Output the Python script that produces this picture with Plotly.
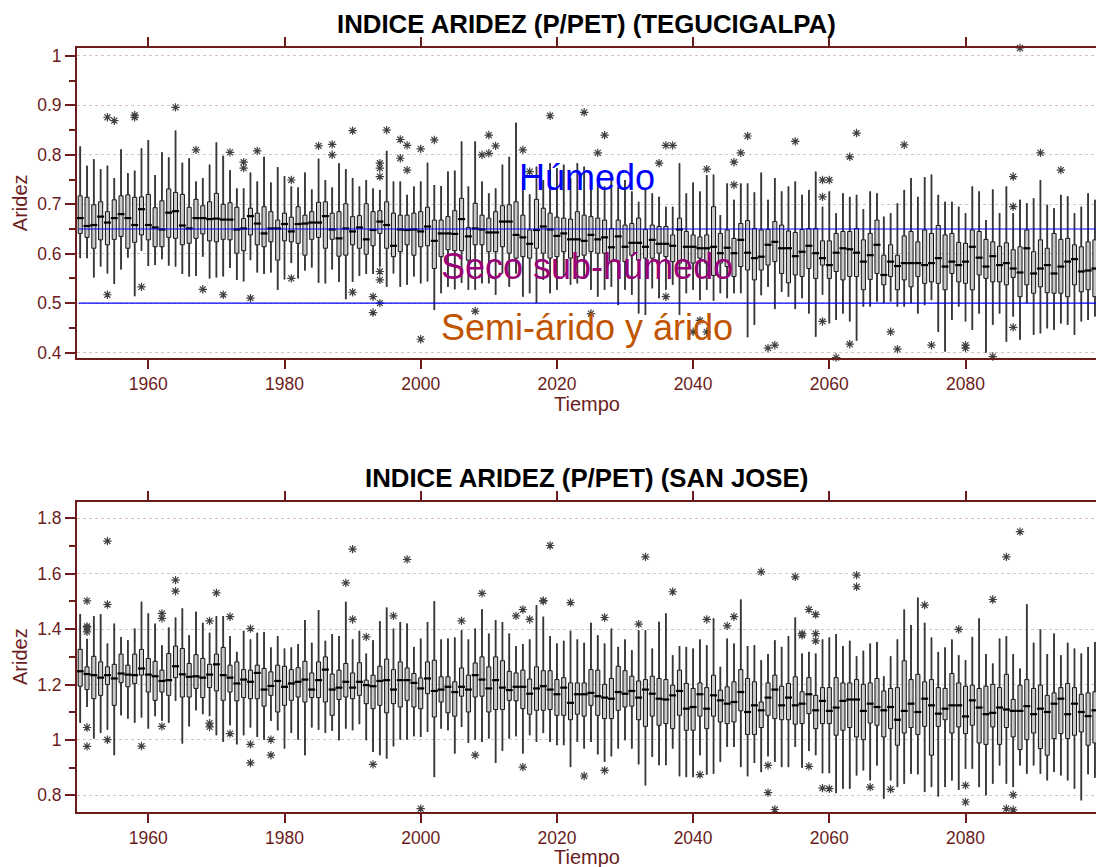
import plotly.graph_objects as go

# ---------------- data ----------------
years = list(range(1950, 2100))

# TEGUCIGALPA (top panel)
teg_q1 = [.641,.633,.611,.628,.618,.629,.635,.611,.623,.638,.628,.614,.614,.633,.631,.618,.621,.631,.640,.626,
          .624,.629,.628,.601,.606,.638,.618,.614,.624,.587,.626,.624,.621,.597,.629,.633,.611,.629,.595,.597,
          .618,.611,.599,.616,.641,.611,.594,.604,.618,.597,.614,.616,.570,.594,.608,.606,.606,.587,.618,.618,
          .604,.604,.614,.601,.591,.594,.591,.611,.601,.591,.594,.604,.591,.594,.597,.604,.601,.601,.584,.584,
          .584,.597,.587,.591,.591,.601,.594,.584,.581,.584,.581,.591,.581,.556,.581,.574,.554,.574,.567,.547,
          .567,.577,.584,.560,.541,.557,.554,.570,.550,.577,.550,.564,.547,.554,.554,.527,.548,.560,.537,.554,
          .527,.547,.533,.554,.540,.543,.540,.527,.560,.543,.540,.527,.557,.550,.543,.543,.537,.552,.513,.537,
          .520,.533,.521,.520,.520,.513,.537,.523,.527,.513]
teg_med = [.672,.656,.658,.675,.663,.672,.680,.672,.658,.690,.658,.653,.649,.683,.686,.657,.651,.672,.672,.670,
           .671,.669,.669,.649,.651,.676,.661,.641,.651,.651,.660,.645,.660,.661,.663,.663,.676,.649,.631,.651,
           .645,.653,.629,.648,.665,.658,.616,.649,.648,.649,.645,.655,.626,.641,.641,.640,.670,.635,.651,.649,
           .643,.643,.665,.665,.638,.633,.620,.648,.655,.649,.636,.641,.629,.629,.626,.638,.629,.633,.613,.635,
           .614,.622,.622,.614,.628,.620,.620,.616,.649,.614,.614,.611,.611,.614,.601,.612,.601,.628,.602,.591,
           .594,.618,.624,.611,.611,.595,.604,.616,.601,.591,.577,.602,.611,.609,.602,.584,.597,.618,.557,.584,
           .575,.581,.581,.581,.577,.581,.591,.574,.584,.577,.584,.614,.592,.574,.595,.577,.581,.570,.562,.611,
           .560,.570,.577,.560,.574,.584,.589,.564,.566,.570]
teg_q3 = [.717,.714,.699,.705,.685,.709,.717,.719,.714,.715,.720,.693,.707,.731,.724,.720,.694,.710,.697,.705,
          .722,.700,.703,.694,.671,.692,.682,.695,.685,.668,.682,.674,.695,.678,.685,.704,.705,.682,.685,.701,
          .675,.677,.701,.685,.687,.705,.682,.678,.678,.682,.685,.694,.668,.668,.675,.687,.712,.653,.702,.678,
          .672,.685,.697,.699,.705,.678,.648,.710,.692,.682,.674,.672,.670,.685,.678,.675,.672,.668,.651,.668,
          .658,.661,.672,.649,.658,.655,.655,.638,.672,.645,.638,.634,.638,.695,.641,.648,.631,.661,.667,.651,
          .648,.649,.665,.658,.646,.643,.649,.651,.651,.626,.626,.641,.645,.645,.651,.628,.641,.668,.597,.618,
          .597,.636,.645,.624,.648,.641,.657,.638,.641,.623,.621,.648,.645,.629,.624,.615,.622,.608,.614,.648,
          .604,.628,.611,.641,.629,.631,.618,.614,.624,.628]
teg_lo = [.591,.591,.552,.574,.560,.539,.568,.592,.514,.606,.575,.577,.589,.576,.574,.559,.554,.555,.594,.550,
          .552,.554,.571,.547,.544,.587,.562,.559,.562,.527,.548,.581,.550,.566,.572,.541,.540,.568,.543,.508,
          .543,.555,.559,.559,.574,.533,.560,.533,.537,.554,.540,.544,.486,.520,.533,.528,.541,.527,.527,.540,
          .540,.517,.560,.533,.560,.513,.520,.500,.547,.520,.527,.554,.537,.540,.550,.527,.513,.527,.533,.496,
          .527,.517,.479,.476,.530,.510,.527,.537,.476,.520,.527,.506,.527,.505,.520,.510,.520,.520,.431,.456,
          .516,.533,.488,.523,.513,.488,.510,.479,.432,.517,.459,.466,.479,.463,.424,.493,.493,.503,.500,.503,
          .493,.493,.500,.479,.496,.506,.442,.402,.466,.493,.463,.446,.479,.400,.456,.479,.422,.473,.426,.500,
          .436,.439,.449,.446,.459,.456,.436,.463,.466,.473]
teg_hi = [.817,.778,.791,.771,.778,.753,.811,.763,.768,.813,.830,.759,.805,.795,.849,.784,.793,.746,.753,.780,
          .825,.798,.769,.732,.732,.764,.746,.796,.744,.775,.757,.736,.734,.764,.730,.792,.749,.734,.783,.771,
          .753,.736,.749,.732,.729,.808,.746,.746,.719,.736,.746,.784,.739,.737,.766,.768,.827,.736,.827,.746,
          .722,.732,.780,.796,.865,.756,.720,.776,.749,.783,.773,.780,.753,.783,.776,.763,.753,.736,.763,.736,
          .749,.726,.705,.732,.722,.715,.695,.695,.783,.722,.744,.726,.759,.760,.678,.742,.709,.742,.742,.724,
          .764,.709,.753,.726,.736,.746,.719,.729,.766,.695,.726,.682,.722,.715,.719,.690,.726,.722,.675,.682,
          .702,.729,.753,.715,.755,.760,.719,.705,.705,.695,.682,.736,.726,.668,.730,.682,.736,.682,.709,.702,
          .712,.749,.699,.692,.719,.716,.682,.695,.722,.709]
teg_out_year = [1954,1954,1955,1958,1958,1959,1964,1967,1968,1971,1972,1974,1974,1975,1976,1981,1981,1985,1987,1987,
                1990,1990,1993,1993,1994,1994,1994,1994,1994,1994,1995,1997,1997,1998,1998,2000,2000,2002,2008,2009,
                2010,2010,2011,2015,2016,2019,2024,2025,2026,2027,2035,2036,2036,2037,2040,2041,2042,2042,2046,2046,
                2047,2048,2051,2052,2055,2059,2059,2059,2060,2061,2063,2063,2064,2069,2070,2071,2075,2080,2080,2084,
                2087,2087,2087,2088,2091,2094]
teg_out_val = [.876,.517,.869,.880,.876,.533,.896,.810,.528,.517,.805,.785,.773,.510,.808,.749,.550,.818,.821,.800,
               .849,.522,.513,.481,.783,.773,.756,.564,.547,.500,.850,.831,.793,.819,.769,.812,.427,.830,.484,.800,
               .840,.803,.818,.810,.766,.879,.886,.479,.804,.840,.783,.819,.513,.819,.442,.465,.442,.771,.785,.739,
               .804,.838,.409,.415,.827,.749,.715,.463,.749,.390,.796,.417,.844,.442,.407,.820,.415,.415,.409,.392,
               .756,.695,.451,1.016,.804,.769]

# SAN JOSE (bottom panel)
sj_q1 = [1.194,1.182,1.149,1.161,1.200,1.125,1.207,1.192,1.204,1.234,1.173,1.143,1.173,1.161,1.225,1.155,1.155,1.186,1.153,1.189,
         1.177,1.143,1.173,1.141,1.153,1.149,1.149,1.122,1.161,1.101,1.125,1.143,1.155,1.137,1.153,1.153,1.137,1.089,1.146,1.155,
         1.149,1.161,1.131,1.113,1.125,1.098,1.131,1.119,1.143,1.119,1.113,1.167,1.083,1.137,1.098,1.086,1.158,1.101,1.155,1.158,
         1.101,1.110,1.110,1.143,1.141,1.113,1.093,1.107,1.107,1.110,1.089,1.089,1.073,1.093,1.086,1.125,1.089,1.077,1.077,1.107,
         1.119,1.122,1.073,1.049,1.086,1.053,1.059,1.041,1.089,1.035,1.035,1.086,1.041,1.086,1.065,1.059,1.065,1.105,1.020,1.020,
         1.045,1.089,1.077,1.073,1.073,1.057,1.059,1.095,1.041,1.059,1.059,1.017,1.035,1.045,1.011,1.001,1.061,1.053,1.011,1.041,
         0.981,1.025,1.045,1.020,1.049,0.945,1.049,1.073,1.025,1.047,1.023,1.053,0.989,0.984,1.047,0.984,1.045,1.011,0.965,1.001,
         1.025,0.969,0.945,1.005,1.023,1.005,1.017,1.029,0.981,0.989]
sj_med = [1.248,1.238,1.234,1.225,1.234,1.222,1.240,1.236,1.234,1.258,1.236,1.230,1.213,1.216,1.266,1.237,1.228,1.230,1.225,1.236,
          1.273,1.234,1.225,1.204,1.218,1.210,1.242,1.182,1.195,1.213,1.192,1.204,1.210,1.218,1.182,1.216,1.254,1.182,1.189,1.210,
          1.189,1.210,1.198,1.194,1.213,1.216,1.182,1.216,1.216,1.206,1.186,1.222,1.177,1.182,1.192,1.173,1.192,1.182,1.234,1.218,
          1.186,1.216,1.189,1.180,1.192,1.192,1.167,1.186,1.194,1.182,1.165,1.189,1.134,1.165,1.165,1.170,1.158,1.153,1.149,1.173,
          1.167,1.177,1.153,1.182,1.167,1.149,1.146,1.161,1.177,1.113,1.119,1.165,1.113,1.161,1.143,1.131,1.137,1.173,1.101,1.125,
          1.107,1.153,1.182,1.125,1.153,1.125,1.131,1.165,1.107,1.141,1.105,1.117,1.141,1.146,1.146,1.105,1.131,1.119,1.107,1.119,
          1.073,1.105,1.131,1.101,1.149,1.125,1.095,1.113,1.125,1.125,1.085,1.143,1.117,1.093,1.098,1.117,1.110,1.105,1.105,1.122,
          1.093,1.113,1.101,1.131,1.149,1.093,1.131,1.101,1.086,1.107]
sj_q3 = [1.327,1.264,1.302,1.282,1.264,1.273,1.310,1.270,1.310,1.327,1.294,1.284,1.252,1.312,1.339,1.330,1.276,1.308,1.294,1.273,
         1.310,1.334,1.270,1.282,1.254,1.252,1.270,1.258,1.246,1.270,1.266,1.254,1.261,1.284,1.242,1.282,1.300,1.238,1.252,1.276,
         1.242,1.279,1.216,1.234,1.266,1.292,1.254,1.282,1.260,1.240,1.224,1.282,1.288,1.228,1.228,1.210,1.260,1.234,1.278,1.300,
         1.264,1.300,1.286,1.248,1.242,1.252,1.220,1.264,1.250,1.250,1.218,1.225,1.206,1.206,1.206,1.254,1.252,1.201,1.222,1.266,
         1.250,1.230,1.213,1.218,1.230,1.222,1.218,1.198,1.252,1.204,1.186,1.206,1.189,1.234,1.180,1.192,1.210,1.254,1.222,1.210,
         1.137,1.206,1.234,1.194,1.204,1.228,1.174,1.225,1.161,1.189,1.189,1.225,1.206,1.206,1.218,1.201,1.206,1.222,1.177,1.186,
         1.189,1.286,1.218,1.237,1.210,1.218,1.189,1.186,1.240,1.206,1.194,1.198,1.186,1.194,1.201,1.189,1.237,1.146,1.198,1.218,
         1.186,1.198,1.161,1.170,1.189,1.204,1.189,1.165,1.170,1.174]
sj_lo = [1.062,1.119,1.005,1.025,1.037,0.945,1.089,1.077,1.062,1.081,1.041,1.086,1.069,1.062,1.141,0.987,1.049,1.107,1.093,1.086,
         1.017,0.993,1.053,0.984,1.017,1.045,1.011,1.001,1.069,1.035,0.969,1.025,1.001,0.945,1.045,1.037,1.025,1.033,0.999,1.041,
         1.035,1.057,0.999,0.957,0.945,0.933,0.977,1.001,1.001,1.013,1.011,1.029,0.866,1.041,1.035,0.951,1.047,0.989,1.001,0.993,
         1.005,0.917,0.960,1.005,1.013,0.951,1.017,0.993,1.025,0.993,0.981,0.981,0.902,0.993,0.969,0.993,0.948,0.921,0.941,0.969,
         0.999,0.969,0.912,0.836,0.939,0.909,0.909,0.969,0.869,0.866,0.866,0.945,0.875,0.878,0.921,0.975,0.975,0.902,0.869,0.917,
         0.884,0.941,0.921,0.902,0.902,0.975,0.900,0.960,0.945,0.880,0.880,0.808,0.824,0.824,0.872,0.890,0.854,0.908,0.788,0.854,
         0.830,0.842,0.878,0.876,0.812,0.830,0.796,0.830,0.854,0.820,0.896,0.896,0.830,0.800,0.842,0.908,0.842,0.830,0.908,0.878,
         0.908,0.878,0.854,0.884,0.872,0.854,0.824,0.782,0.876,0.864]
sj_hi = [1.454,1.365,1.447,1.454,1.348,1.420,1.372,1.360,1.402,1.499,1.457,1.420,1.342,1.406,1.442,1.475,1.378,1.463,1.423,1.387,
         1.447,1.447,1.375,1.318,1.394,1.363,1.387,1.390,1.334,1.375,1.330,1.334,1.346,1.433,1.351,1.469,1.358,1.382,1.375,1.499,
         1.363,1.394,1.312,1.360,1.429,1.478,1.402,1.426,1.420,1.336,1.366,1.426,1.501,1.363,1.366,1.370,1.396,1.363,1.402,1.472,
         1.384,1.433,1.426,1.384,1.339,1.346,1.363,1.487,1.445,1.375,1.348,1.358,1.394,1.363,1.351,1.423,1.378,1.348,1.402,1.336,
         1.363,1.324,1.396,1.396,1.330,1.427,1.457,1.306,1.339,1.336,1.330,1.363,1.342,1.439,1.264,1.366,1.348,1.507,1.339,1.342,
         1.288,1.310,1.360,1.336,1.375,1.442,1.312,1.318,1.312,1.363,1.370,1.382,1.339,1.358,1.302,1.322,1.348,1.354,1.230,1.302,
         1.363,1.471,1.415,1.514,1.423,1.370,1.318,1.334,1.363,1.306,1.288,1.372,1.439,1.310,1.276,1.366,1.375,1.310,1.258,1.490,
         1.351,1.399,1.310,1.384,1.306,1.351,1.330,1.312,1.336,1.354]
sj_out_year = [1951,1951,1951,1951,1951,1951,1954,1954,1954,1959,1962,1962,1962,1964,1964,1969,1969,1969,1970,1972,
               1972,1975,1975,1975,1978,1978,1989,1990,1990,1992,1993,1996,1998,2000,2006,2008,2009,2014,2015,2015,
               2016,2018,2018,2019,2022,2024,2024,2027,2027,2032,2033,2037,2041,2042,2045,2046,2050,2051,2051,2052,
               2055,2056,2056,2057,2057,2058,2058,2058,2059,2060,2064,2064,2066,2069,2074,2079,2080,2080,2084,2084,
               2086,2086,2087,2087,2088]
sj_out_val = [1.502,1.410,1.405,1.390,1.045,0.977,1.718,1.489,1.001,0.978,1.457,1.439,1.049,1.577,1.537,1.430,1.061,1.047,1.531,1.445,
              1.023,1.402,0.984,0.917,1.001,0.945,1.567,1.689,1.435,1.372,0.912,1.448,1.652,0.752,1.430,0.945,1.529,1.448,1.471,0.902,
              1.435,1.501,1.503,1.702,1.496,1.860,0.870,1.442,0.890,1.418,1.661,1.535,0.875,1.435,1.412,1.445,1.607,0.908,0.810,0.749,
              1.589,1.384,1.378,1.471,0.905,1.453,1.384,1.358,0.826,0.824,1.595,1.553,0.830,0.822,1.487,1.399,0.836,0.776,1.507,0.736,
              1.661,0.752,0.802,0.748,1.752]

titles = ["INDICE ARIDEZ (P/PET) (TEGUCIGALPA)", "INDICE ARIDEZ (P/PET) (SAN JOSE)"]
zone_limits = [0.65, 0.5]
zone_labels = ["Húmedo", "Seco sub-húmedo", "Semi-árido y árido"]
zone_label_y = [0.755, 0.575, 0.45]
zone_label_x = 2024.4

# ---------------- style ----------------
AX = "#6b1d1d"
FONT = "Liberation Sans, Arial, sans-serif"
GRID = "rgba(180,120,120,0.45)"

fig = go.Figure()

def add_panel(q1, med, q3, lo, hi, oy, ov, xa, ya):
    fig.add_trace(go.Box(x=years, q1=q1, median=med, q3=q3, lowerfence=lo, upperfence=hi,
                         boxpoints=False, width=0.6, whiskerwidth=0,
                         fillcolor="#c8c8c8", line=dict(color="#111111", width=1),
                         xaxis=xa, yaxis=ya, showlegend=False, hoverinfo="skip"))
    wx, wy = [], []
    for yr, a, b, c, d in zip(years, lo, q1, q3, hi):
        wx += [yr, yr, None, yr, yr, None]
        wy += [a, b, None, c, d, None]
    fig.add_trace(go.Scatter(x=wx, y=wy, mode="lines", line=dict(color="#383838", width=1.8),
                             xaxis=xa, yaxis=ya, showlegend=False, hoverinfo="skip"))
    fig.add_trace(go.Scatter(x=years, y=med, mode="markers",
                             marker=dict(symbol="line-ew", size=5, line=dict(color="black", width=2.2)),
                             xaxis=xa, yaxis=ya, showlegend=False, hoverinfo="skip"))
    fig.add_trace(go.Scatter(x=oy, y=ov, mode="markers", cliponaxis=False,
                             marker=dict(symbol="asterisk-open", size=7, color="#404040",
                                         line=dict(color="#404040", width=1.2)),
                             xaxis=xa, yaxis=ya, showlegend=False, hoverinfo="skip"))

add_panel(teg_q1, teg_med, teg_q3, teg_lo, teg_hi, teg_out_year, teg_out_val, "x", "y")
add_panel(sj_q1, sj_med, sj_q3, sj_lo, sj_hi, sj_out_year, sj_out_val, "x2", "y2")

xcommon = dict(range=[1949.53, 2099.16], tick0=1960, dtick=20, ticks="outside", ticklen=9, tickwidth=2,
               tickcolor=AX, showline=True, linewidth=2, linecolor=AX, mirror="ticks",
               showgrid=False, zeroline=False, tickfont=dict(family=FONT, size=17.5, color=AX))
ycommon = dict(ticks="outside", ticklen=10, tickwidth=2, tickcolor=AX, showline=True, linewidth=2,
               linecolor=AX, mirror=False, showgrid=True, gridcolor=GRID, griddash="dot", gridwidth=1,
               zeroline=False, tickfont=dict(family=FONT, size=17.5, color=AX))

fig.update_layout(
    width=1096, height=867, plot_bgcolor="white", paper_bgcolor="white",
    margin=dict(l=77, r=0, t=48, b=55),
    xaxis=dict(domain=[0, 1], anchor="y", **xcommon),
    yaxis=dict(domain=[0.5942, 1], anchor="x", range=[0.389, 1.016], tick0=0.4, dtick=0.1,
               minor=dict(ticks="outside", ticklen=6, tickwidth=2, tickcolor=AX, dtick=0.05, tick0=0.4, showgrid=False),
               **ycommon),
    xaxis2=dict(domain=[0, 1], anchor="y2", **xcommon),
    yaxis2=dict(domain=[0, 0.4054], anchor="x2", range=[0.74, 1.858], tick0=0.8, dtick=0.2,
                minor=dict(ticks="outside", ticklen=6, tickwidth=2, tickcolor=AX, dtick=0.1, tick0=0.8, showgrid=False),
                **ycommon),
)

for lim in zone_limits:
    fig.add_shape(type="line", xref="x", yref="y", x0=years[0] - 0.2, x1=2100, y0=lim, y1=lim,
                  line=dict(color="#0000ff", width=1.2), layer="above")

zone_colors = ["#0000ff", "#9a0078", "#c05400"]
for lab, yy, col in zip(zone_labels, zone_label_y, zone_colors):
    fig.add_annotation(x=zone_label_x, y=yy, xref="x", yref="y", text=lab, showarrow=False,
                       font=dict(family=FONT, size=36, color=col), xanchor="center", yanchor="middle")

# titles
fig.add_annotation(x=0.5, y=1.0314, xref="paper", yref="paper", text="<b>%s</b>" % titles[0], showarrow=False,
                   font=dict(family=FONT, size=25.8, color="black"), xanchor="center", yanchor="middle")
fig.add_annotation(x=0.5, y=0.4372, xref="paper", yref="paper", text="<b>%s</b>" % titles[1], showarrow=False,
                   font=dict(family=FONT, size=25.8, color="black"), xanchor="center", yanchor="middle")
# axis titles
for ty in [0.534, -0.0589]:
    fig.add_annotation(x=0.5, y=ty, xref="paper", yref="paper", text="Tiempo", showarrow=False,
                       font=dict(family=FONT, size=20, color=AX), xanchor="center", yanchor="middle")
for ty in [0.797, 0.2029]:
    fig.add_annotation(x=-0.0559, y=ty, xref="paper", yref="paper", text="Aridez", showarrow=False, textangle=-90,
                       font=dict(family=FONT, size=20, color=AX), xanchor="center", yanchor="middle")

fig.write_html("out.html")
